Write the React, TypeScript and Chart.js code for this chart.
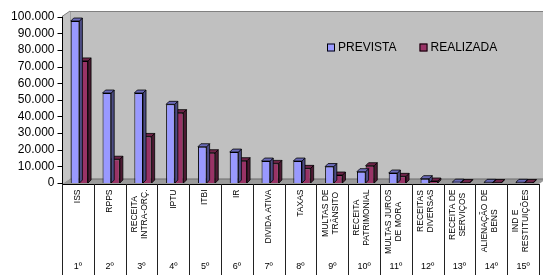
import React, { useEffect, useRef } from "react";
import { Chart, registerables } from "chart.js";

Chart.register(...registerables);

const categories: string[][] = [
  ["ISS"],
  ["RPPS"],
  ["RECEITA", "INTRA-ORÇ."],
  ["IPTU"],
  ["ITBI"],
  ["IR"],
  ["DIVIDA ATIVA"],
  ["TAXAS"],
  ["MULTAS DE", "TRÂNSITO"],
  ["RECEITA", "PATRIMONIAL"],
  ["MULTAS JUROS", "DE MORA"],
  ["RECEITAS", "DIVERSAS"],
  ["RECEITA DE", "SERVIÇOS"],
  ["ALIENAÇÃO DE", "BENS"],
  ["IND E", "RESTITUIÇÕES"],
];
const ordinals = ["1º", "2º", "3º", "4º", "5º", "6º", "7º", "8º", "9º", "10º", "11º", "12º", "13º", "14º", "15º"];
const prevista = [97400, 54100, 54100, 47300, 21800, 18600, 13200, 13200, 9900, 6800, 6000, 2600, 500, 400, 400];
const realizada = [73400, 14300, 28000, 42300, 18200, 13400, 11800, 8800, 4800, 10400, 4000, 1200, 300, 300, 300];
const seriesNames = ["PREVISTA", "REALIZADA"];
const yTicks = [0, 10000, 20000, 30000, 40000, 50000, 60000, 70000, 80000, 90000, 100000];

const FONT = "'Liberation Sans', Arial, sans-serif";
const FRONT = ["#9999FF", "#993366"];
const SIDE = ["#4d4d85", "#4d1a33"];
const TOP = ["#6a6ab8", "#6e2448"];

function fmt(v: number) {
  return String(v).replace(/\B(?=(\d{3})+(?!\d))/g, ".");
}

const decor = {
  id: "decor",
  beforeDraw(chart: any) {
    const ctx = chart.ctx as CanvasRenderingContext2D;
    const ca = chart.chartArea;
    const ys = chart.scales.y;
    const n = categories.length;
    const catW = (ca.right - ca.left) / n;
    const L = ca.left - 1.5;
    const R = L + catW * n;
    const floorFront = ys.getPixelForValue(0) + 1;
    const dx = 8;
    const dy = 5.5;
    const wallTop = 11;
    ctx.save();
    // back wall
    ctx.fillStyle = "#C0C0C0";
    ctx.fillRect(L + dx, wallTop, R + 20 - (L + dx), floorFront - dy - wallTop);
    ctx.strokeStyle = "#808080";
    ctx.lineWidth = 1;
    ctx.beginPath();
    ctx.moveTo(L + dx, floorFront - dy);
    ctx.lineTo(L + dx, wallTop + 0.5);
    ctx.lineTo(R + 20, wallTop + 0.5);
    ctx.stroke();
    // side wall
    ctx.fillStyle = "#C4C4C4";
    ctx.beginPath();
    ctx.moveTo(L, wallTop + dy);
    ctx.lineTo(L + dx, wallTop);
    ctx.lineTo(L + dx, floorFront - dy);
    ctx.lineTo(L, floorFront);
    ctx.closePath();
    ctx.fill();
    ctx.strokeStyle = "#808080";
    ctx.beginPath();
    ctx.moveTo(L, wallTop + dy);
    ctx.lineTo(L + dx, wallTop);
    ctx.stroke();
    // floor
    ctx.fillStyle = "#9a9a9a";
    ctx.beginPath();
    ctx.moveTo(L, floorFront);
    ctx.lineTo(L + dx, floorFront - dy);
    ctx.lineTo(R + dx, floorFront - dy);
    ctx.lineTo(R, floorFront);
    ctx.closePath();
    ctx.fill();
    ctx.strokeStyle = "#6e6e6e";
    ctx.beginPath();
    ctx.moveTo(L + dx, floorFront - dy + 0.5);
    ctx.lineTo(R + dx, floorFront - dy + 0.5);
    ctx.stroke();
    // front floor edge
    ctx.strokeStyle = "#000";
    ctx.beginPath();
    ctx.moveTo(L, Math.round(floorFront) + 0.5);
    ctx.lineTo(R, Math.round(floorFront) + 0.5);
    ctx.stroke();
    // y axis line + ticks
    const ax = Math.round(L) + 0.5;
    ctx.beginPath();
    ctx.moveTo(ax, ys.getPixelForValue(100000));
    ctx.lineTo(ax, floorFront);
    for (const t of yTicks) {
      const y = Math.round(ys.getPixelForValue(t)) + 0.5;
      ctx.moveTo(ax - 5, y);
      ctx.lineTo(ax, y);
    }
    ctx.stroke();
    // table grid
    ctx.strokeStyle = "#222";
    ctx.beginPath();
    for (let i = 0; i <= n; i++) {
      const x = Math.round(L + i * catW) + 0.5;
      ctx.moveTo(x, Math.round(floorFront));
      ctx.lineTo(x, chart.height);
    }
    ctx.stroke();
    // category labels
    ctx.fillStyle = "#000";
    ctx.font = `8.5px ${FONT}`;
    const lineH = 10;
    for (let i = 0; i < n; i++) {
      const cx = L + (i + 0.5) * catW;
      const lines = categories[i];
      const w = Math.max(...lines.map((s) => ctx.measureText(s).width));
      ctx.save();
      ctx.translate(cx + (lines.length > 1 ? -2 : 0), 189.5);
      ctx.rotate(-Math.PI / 2);
      ctx.textAlign = "center";
      ctx.textBaseline = "middle";
      lines.forEach((s, j) => {
        ctx.fillText(s, -w / 2, (j - (lines.length - 1) / 2) * lineH);
      });
      ctx.restore();
    }
    // ordinals
    ctx.font = `9px ${FONT}`;
    ctx.textAlign = "center";
    ctx.textBaseline = "middle";
    for (let i = 0; i < n; i++) {
      ctx.fillText(ordinals[i], L + (i + 0.5) * catW, 267);
    }
    // legend
    ctx.font = `12px ${FONT}`;
    ctx.textAlign = "left";
    const legX = [327, 419.5];
    for (let k = 0; k < 2; k++) {
      ctx.fillStyle = FRONT[k];
      ctx.fillRect(legX[k], 43.5, 8, 8);
      ctx.strokeStyle = "#000";
      ctx.strokeRect(legX[k] + 0.5, 44, 7, 7);
      ctx.fillStyle = "#000";
      ctx.fillText(seriesNames[k], legX[k] + 11, 48);
    }
    ctx.restore();
  },
  beforeDatasetDraw(chart: any, args: any) {
    const k = args.index;
    const ctx = chart.ctx as CanvasRenderingContext2D;
    const meta = chart.getDatasetMeta(k);
    const d = 3;
    ctx.save();
    ctx.lineWidth = 0.8;
    ctx.strokeStyle = "#000";
    for (const el of meta.data) {
      const { x, y, base, width } = el.getProps(["x", "y", "base", "width"], true);
      const l = x - width / 2;
      const r = x + width / 2;
      ctx.fillStyle = SIDE[k];
      ctx.beginPath();
      ctx.moveTo(r, y);
      ctx.lineTo(r + d, y - d);
      ctx.lineTo(r + d, base - d);
      ctx.lineTo(r, base);
      ctx.closePath();
      ctx.fill();
      ctx.stroke();
      ctx.fillStyle = TOP[k];
      ctx.beginPath();
      ctx.moveTo(l, y);
      ctx.lineTo(l + d, y - d);
      ctx.lineTo(r + d, y - d);
      ctx.lineTo(r, y);
      ctx.closePath();
      ctx.fill();
      ctx.stroke();
    }
    ctx.restore();
  },
};

export default function App() {
  const ref = useRef<HTMLCanvasElement>(null);
  useEffect(() => {
    if (!ref.current) return;
    const chart = new Chart(ref.current, {
      type: "bar",
      data: {
        labels: categories.map((c) => c.join(" ")),
        datasets: [
          {
            label: seriesNames[0],
            data: prevista,
            backgroundColor: FRONT[0],
            borderColor: "#000",
            borderWidth: 1,
            barPercentage: 1,
            categoryPercentage: 0.545,
          },
          {
            label: seriesNames[1],
            data: realizada,
            backgroundColor: FRONT[1],
            borderColor: "#000",
            borderWidth: 1,
            barPercentage: 1,
            categoryPercentage: 0.545,
          },
        ],
      },
      options: {
        responsive: false,
        animation: false,
        devicePixelRatio: 1,
        layout: { padding: { top: 16.7, bottom: 92, left: 0, right: 2.5 } },
        plugins: { legend: { display: false }, tooltip: { enabled: false } },
        scales: {
          x: { display: false },
          y: {
            min: 0,
            max: 100000,
            afterFit: (s: any) => {
              s.width = 63.5;
            },
            afterBuildTicks: (s: any) => {
              s.ticks = yTicks.map((v) => ({ value: v }));
            },
            ticks: {
              autoSkip: false,
              callback: (v: any) => fmt(Number(v)),
              font: { family: FONT, size: 12 },
              color: "#000",
              padding: 4,
            },
            grid: { display: false, drawTicks: true, tickLength: 5 },
            border: { display: false },
          },
        },
      },
      plugins: [decor],
    });
    return () => chart.destroy();
  }, []);
  return (
    <div style={{ position: "fixed", left: 0, top: 0, width: 543, height: 275, background: "#fff" }}>
      <canvas ref={ref} width={543} height={275} style={{ display: "block" }} />
    </div>
  );
}
